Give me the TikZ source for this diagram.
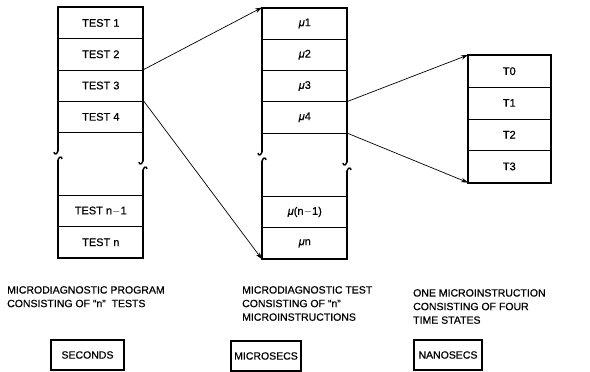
\documentclass[tikz,border=0pt]{standalone}
\usepackage{fontspec}
\setmainfont{Liberation Sans}[UprightFeatures={FakeBold=0.6},ItalicFeatures={FakeBold=0.6}]
\usetikzlibrary{arrows.meta}
\tikzset{
  cell/.style={draw, line width=0.6pt, minimum width=85pt, minimum height=31.3pt, inner sep=0pt, anchor=north west, font=\fontsize{11}{12}\selectfont},
  rcell/.style={cell, minimum width=82pt, minimum height=31.75pt},
  frame/.style={line width=1.8pt, line cap=round},
  link/.style={line width=0.7pt, -{Stealth[length=7pt,width=4.5pt]}},
  caption/.style={anchor=north west, align=left, inner sep=0pt, font=\fontsize{10.5}{13.6}\selectfont},
  unitbox/.style={draw, line width=1.6pt, minimum height=30pt, inner sep=0pt, font=\fontsize{10.5}{12}\selectfont}
}
\newcommand{\mymu}{{\itshape μ}}
\begin{document}
\begin{tikzpicture}[x=1pt,y=-1pt]
\useasboundingbox (0,0) rectangle (590,372);
% left column
\node[cell] (t1) at (58,7) {TEST 1};
\node[cell] (t2) at (58,38.3) {TEST 2};
\node[cell] (t3) at (58,69.6) {TEST 3};
\node[cell] (t4) at (58,100.9) {TEST 4};
\node[cell] (tn1) at (58,195) {TEST n$-$1};
\node[cell] (tn) at (58,226.3) {TEST n};
\draw[frame] (58,151) -- (58,7) -- (143,7) -- (143,161);
\draw[frame] (58,160) -- (58,257.6) -- (143,257.6) -- (143,170);
\draw[line width=1.4pt] (58,149) .. controls (58,155) and (54,155) .. (54,152);
\draw[line width=1.4pt] (62,159) .. controls (62,156) and (58,156) .. (58,162);
\draw[line width=1.4pt] (143,159) .. controls (143,165) and (139,165) .. (139,162);
\draw[line width=1.4pt] (147,169) .. controls (147,166) and (143,166) .. (143,172);
% middle column
\node[cell] (m1) at (262,7.5) {\mymu1};
\node[cell] (m2) at (262,38.8) {\mymu2};
\node[cell] (m3) at (262,70.1) {\mymu3};
\node[cell] (m4) at (262,101.4) {\mymu4};
\node[cell] (mn1) at (262,196) {\mymu(n$-$1)};
\node[cell] (mn) at (262,227.3) {\mymu n};
\draw[frame] (262,152) -- (262,7.5) -- (347,7.5) -- (347,162);
\draw[frame] (262,161) -- (262,258.6) -- (347,258.6) -- (347,171);
\draw[line width=1.4pt] (262,150) .. controls (262,156) and (258,156) .. (258,153);
\draw[line width=1.4pt] (266,160) .. controls (266,157) and (262,157) .. (262,163);
\draw[line width=1.4pt] (347,160) .. controls (347,166) and (343,166) .. (343,163);
\draw[line width=1.4pt] (351,170) .. controls (351,167) and (347,167) .. (347,173);
% right column
\node[rcell] (r0) at (468,55) {T0};
\node[rcell] (r1) at (468,86.75) {T1};
\node[rcell] (r2) at (468,118.5) {T2};
\node[rcell] (r3) at (468,150.25) {T3};
\draw[frame] (r0.north west) rectangle (r3.south east);
% connectors
\draw[link] (t3.north east) -- (m1.north west);
\draw[link] (t4.north east) -- (mn.south west);
\draw[link] (m4.north east) -- (r0.north west);
\draw[link] (m4.south east) -- (r3.south west);
% captions
\node[caption] (c1) at (7,286) {MICRODIAGNOSTIC PROGRAM\\CONSISTING OF “n”\ \ TESTS};
\node[caption] (c2) at (242,286) {MICRODIAGNOSTIC TEST\\CONSISTING OF “n”\\MICROINSTRUCTIONS};
\node[caption] (c3) at (413,289) {ONE MICROINSTRUCTION\\CONSISTING OF FOUR\\TIME STATES};
% unit boxes
\node[unitbox, minimum width=73pt] (u1) at (87.5,355) {SECONDS};
\node[unitbox, minimum width=70pt] (u2) at (266,356) {MICROSECS};
\node[unitbox, minimum width=68pt] (u3) at (448,355) {NANOSECS};
\end{tikzpicture}
\end{document}
